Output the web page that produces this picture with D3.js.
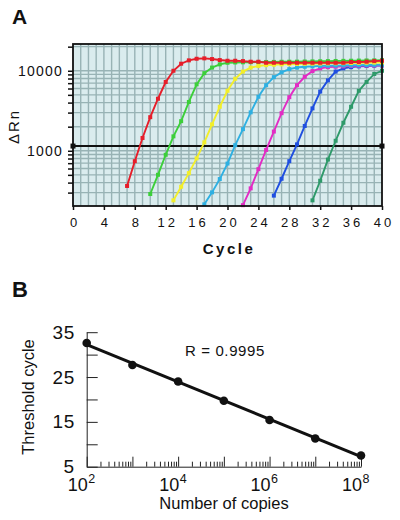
<!DOCTYPE html>
<html><head><meta charset="utf-8">
<script src="https://cdn.jsdelivr.net/npm/d3@7"></script>
<style>
body{margin:0;background:#fff}
svg{display:block}
text{font-family:"Liberation Sans",Arial,Helvetica,sans-serif;fill:#111}
</style>
</head><body>
<svg id="c" width="400" height="520"></svg>
<script>
// ---------- Panel A data (ΔRn per cycle, each series starts at its own cycle) ----------
const seriesNames = ["red","green","yellow","cyan","magenta","blue","teal"];
const seriesColors = ["#e61e2a","#3ccf3a","#f2ee2a","#2eb0e2","#e22cc4","#1f4fe0","#2e9a6a"];
const seriesStartCycle = [7,10,13,17,22,26,31];
const redRn = [363,741,1445,2630,4470,7240,10000,12250,13490,14125,
  14290,14000,13610,13340,13340,13210,12970,12970,
  12590,12590,12590,12590,12590,12590,12590,12590,12590,12590,12590,
  12850,12850,12970,13210,13340];
const greenRn = [288,501,891,1514,2344,4074,6761,9333,10965,12023,12589,12700,12750,12800,12850,
  12880,12900,12950,12980,13000,13050,13100,13150,13200,13250,13300,13350,13400,13450,13500,13550];
const yellowRn = [240,355,525,804,1274,2138,3548,5623,7943,9772,10965,11482,11749,11900,12000,
  12100,12150,12200,12250,12300,12350,12400,12450,12500,12550,12600,12650,12700];
const cyanRn = [214,302,443,692,1175,1862,3020,4732,6607,8318,9550,10471,10965,11220,11350,
  11450,11550,11600,11650,11700,11750,11800,11850,11900];
const magentaRn = [209,339,589,1023,1738,2951,4677,6607,8414,9908,10715,11092,11220,11350,11450,
  11550,11600,11650,11700];
const blueRn = [275,447,741,1202,2042,3388,5495,7586,9772,10715,11092,11350,11480,11580,11650];
const tealRn = [240,422,776,1334,2239,3548,5623,7244,9120,10000];
const seriesRn = [redRn,greenRn,yellowRn,cyanRn,magentaRn,blueRn,tealRn];
const thresholdRn = 1145;
const cycleTicks = [0,4,8,12,16,20,24,28,32,36,40];
const rnTickLabels = [1000,10000];

// ---------- Panel B data ----------
const copies = [1e2,1e3,1e4,1e5,1e6,1e7,1e8];
const thresholdCycle = [32.6,27.7,24.0,19.7,15.4,11.3,7.5];
const copiesLabelExp = [2,4,6,8];
const ctTicks = [5,10,15,20,25,30,35];
const ctTickLabels = [5,15,25,35];
const rText = "R = 0.9995";

const svg = d3.select("#c");

// ================= Panel A =================
const xA = d3.scaleLinear().domain([0,40]).range([73,382]);
const yA = d3.scaleLog().domain([204,21600]).range([206,44]);
const gA = svg.append("g");

gA.append("rect").attr("x",xA(0)).attr("y",yA(21600)).attr("width",xA(40)-xA(0))
  .attr("height",yA(204)-yA(21600)).attr("fill","#daecee");

const gridStroke = "#98b3b5";
gA.append("g").selectAll("line").data(d3.range(1,40)).join("line")
  .attr("x1",d=>xA(d)).attr("x2",d=>xA(d)).attr("y1",yA(21600)).attr("y2",yA(204))
  .attr("stroke",gridStroke).attr("stroke-width",1.4);
const yGrid = yA.ticks().filter(v=>v>204 && v<21600);
gA.append("g").selectAll("line").data(yGrid).join("line")
  .attr("x1",xA(0)).attr("x2",xA(40)).attr("y1",d=>yA(d)).attr("y2",d=>yA(d))
  .attr("stroke",gridStroke).attr("stroke-width",1.4);

// threshold line
gA.append("line").attr("x1",xA(0)).attr("x2",xA(40)).attr("y1",yA(thresholdRn)).attr("y2",yA(thresholdRn))
  .attr("stroke","#111").attr("stroke-width",2);
gA.selectAll(".thr").data([0,40]).join("rect").attr("class","thr")
  .attr("x",d=>xA(d)-2.5).attr("y",yA(thresholdRn)-2.5).attr("width",5).attr("height",5).attr("fill","#111");

// curves (draw red last)
const lineA = d3.line().x(d=>xA(d.c)).y(d=>yA(d.v));
const order = [6,5,4,3,2,1,0];
order.forEach(i=>{
  const pts = seriesRn[i].map((v,k)=>({c:seriesStartCycle[i]+k, v}));
  const g = gA.append("g");
  g.append("path").datum(pts).attr("d",lineA).attr("fill","none")
    .attr("stroke",seriesColors[i]).attr("stroke-width",1.9);
  g.selectAll("rect").data(pts).join("rect")
    .attr("x",d=>xA(d.c)-2).attr("y",d=>yA(d.v)-2).attr("width",4).attr("height",4)
    .attr("fill",seriesColors[i]);
});

// frame
gA.append("rect").attr("x",xA(0)).attr("y",yA(21600)).attr("width",xA(40)-xA(0))
  .attr("height",yA(204)-yA(21600)).attr("fill","none").attr("stroke","#111").attr("stroke-width",1.8);

// left axis ticks
const axL = gA.append("g").attr("transform",`translate(${xA(0)},0)`)
  .call(d3.axisLeft(yA).tickValues(yA.ticks().filter(v=>v>=204&&v<=21600)).tickSize(5).tickFormat(""));
axL.select(".domain").remove();
axL.selectAll("line").attr("stroke","#111").attr("stroke-width",1.5);
gA.selectAll(".ylab").data(rnTickLabels).join("text").attr("class","ylab")
  .attr("x",63).attr("y",d=>yA(d)).attr("dy","0.36em").attr("text-anchor","end")
  .style("font-size","14px").style("letter-spacing","1.2px").text(d=>d);

// bottom axis
const axB = gA.append("g").attr("transform",`translate(0,${yA(204)})`)
  .call(d3.axisBottom(xA).tickValues(cycleTicks).tickSize(4).tickPadding(8));
axB.select(".domain").remove();
axB.selectAll("line").attr("stroke","#111").attr("stroke-width",1.5);
axB.selectAll("text").style("font-size","13px").style("letter-spacing","3px")
  .attr("dx","1.5px").style("font-family","'Liberation Sans',Arial,sans-serif").attr("fill","#111");

svg.append("text").attr("x",229).attr("y",254).attr("text-anchor","middle")
  .style("font-size","15px").style("font-weight","bold").style("letter-spacing","2.5px").text("Cycle");
svg.append("text").attr("transform","translate(18.5,126.5) rotate(-90)").attr("text-anchor","middle")
  .style("font-size","15px").style("letter-spacing","2px").text("ΔRn");
svg.append("text").attr("x",12).attr("y",24).style("font-size","21px").style("font-weight","bold").text("A");

// ================= Panel B =================
const xB = d3.scaleLog().domain([1e2,1e8]).range([86.7,361]);
const yB = d3.scaleLinear().domain([5,35]).range([466.7,332.2]);
const gB = svg.append("g");

const axYB = gB.append("g").attr("transform",`translate(${xB(1e2)},0)`)
  .call(d3.axisLeft(yB).tickValues(ctTicks).tickSizeInner(-11).tickSizeOuter(0).tickPadding(12)
    .tickFormat(d=>ctTickLabels.includes(d)?d:""));
axYB.select(".domain").attr("stroke","#222").attr("stroke-width",1);
axYB.selectAll("line").attr("stroke","#222").attr("stroke-width",1);
axYB.selectAll("text").style("font-size","19px").style("letter-spacing","0.5px")
  .style("font-family","'Liberation Sans',Arial,sans-serif").attr("fill","#111");

const axXB = gB.append("g").attr("transform",`translate(0,${yB(5)})`)
  .call(d3.axisBottom(xB).tickValues(xB.ticks()).tickSizeInner(-5).tickSizeOuter(0).tickFormat(""));
axXB.select(".domain").attr("stroke","#222").attr("stroke-width",1);
axXB.selectAll(".tick line").attr("stroke","#222").attr("stroke-width",1)
  .attr("y2",d=>Math.abs(Math.log10(d)-Math.round(Math.log10(d)))<1e-9 ? -10 : -5);

const xl = gB.selectAll(".xlab").data(copiesLabelExp).join("text").attr("class","xlab")
  .attr("x",d=>xB(Math.pow(10,d))-19).attr("y",491).style("font-size","18px");
xl.append("tspan").text("10");
xl.append("tspan").attr("dy",-8.5).attr("dx",0.5).style("font-size","12.5px").text(d=>d);

svg.append("text").attr("x",224).attr("y",509).attr("text-anchor","middle")
  .style("font-size","16.5px").text("Number of copies");
svg.append("text").attr("transform","translate(34,397) rotate(-90)").attr("text-anchor","middle")
  .style("font-size","16.5px").text("Threshold cycle");
svg.append("text").attr("x",12).attr("y",297).style("font-size","22px").style("font-weight","bold").text("B");
svg.append("text").attr("x",225).attr("y",355.5).attr("text-anchor","middle")
  .style("font-size","15px").style("letter-spacing","0.6px").text(rText);

// regression line
const lx = copies.map(c=>Math.log10(c));
const mx = d3.mean(lx), my = d3.mean(thresholdCycle);
const slope = d3.sum(lx.map((x,i)=>(x-mx)*(thresholdCycle[i]-my)))/d3.sum(lx.map(x=>(x-mx)*(x-mx)));
const fit = [copies[0],copies[copies.length-1]].map(c=>({c, v: my+slope*(Math.log10(c)-mx)}));
gB.append("path").datum(fit).attr("d",d3.line().x(d=>xB(d.c)).y(d=>yB(d.v)))
  .attr("stroke","#111").attr("stroke-width",3).attr("fill","none");
gB.selectAll("circle").data(copies.map((c,i)=>({c,v:thresholdCycle[i]}))).join("circle")
  .attr("cx",d=>xB(d.c)).attr("cy",d=>yB(d.v)).attr("r",4.3).attr("fill","#111");
</script>
</body></html>
